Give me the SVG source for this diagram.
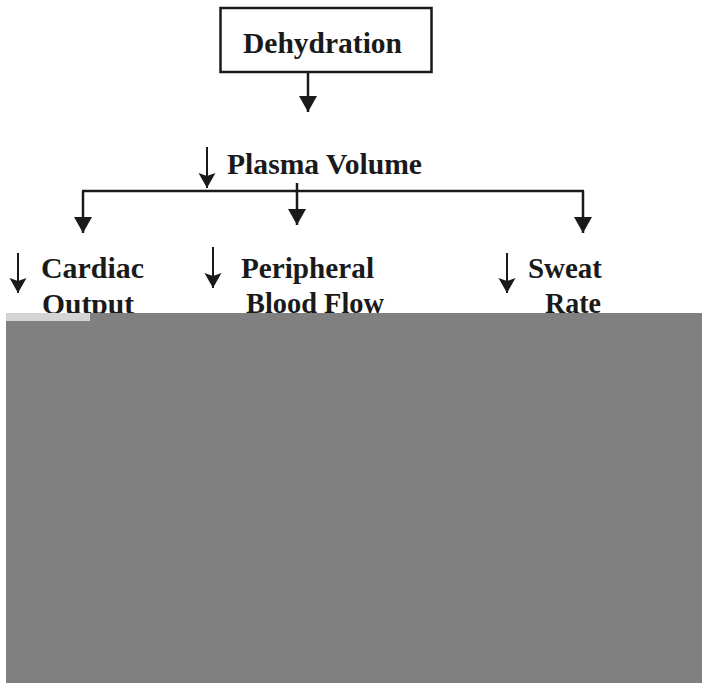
<svg xmlns="http://www.w3.org/2000/svg" width="702" height="683" viewBox="0 0 702 683">
<style>
.t{font-family:"Liberation Serif","Times New Roman",serif;font-weight:bold;font-size:29px;fill:#1a1a1a}
.ln{stroke:#1a1a1a;stroke-width:2.5;fill:none}
.gl{stroke:#1a1a1a;stroke-width:2;fill:none}
</style>
<defs>
<marker id="ah" markerUnits="userSpaceOnUse" markerWidth="18" markerHeight="18" refX="16" refY="9" orient="auto">
<path d="M0,0 L16,9 L0,18 Z" fill="#1a1a1a"/>
</marker>
<marker id="gh" markerUnits="userSpaceOnUse" markerWidth="16" markerHeight="18" refX="15" refY="8.5" orient="auto">
<path d="M0,0 L15,8.5 L0,17 L3,8.5 Z" fill="#1a1a1a"/>
</marker>
</defs>
<rect width="702" height="683" fill="#ffffff"/>
<g id="dehydration">
<rect x="220.5" y="8" width="211" height="64" fill="#ffffff" stroke="#1a1a1a" stroke-width="2.5"/>
<text class="t" x="243" y="53" textLength="159" lengthAdjust="spacingAndGlyphs">Dehydration</text>
</g>
<g id="plasma">
<line class="gl" x1="207" y1="147" x2="207" y2="188" marker-end="url(#gh)"/>
<text class="t" x="227" y="174" textLength="195" lengthAdjust="spacingAndGlyphs">Plasma Volume</text>
</g>
<g id="cardiac">
<line class="gl" x1="18" y1="253" x2="18" y2="293" marker-end="url(#gh)"/>
<text class="t" x="41" y="278" textLength="103" lengthAdjust="spacingAndGlyphs">Cardiac</text>
<text class="t" x="42" y="314" textLength="92" lengthAdjust="spacingAndGlyphs">Output</text>
</g>
<g id="peripheral">
<line class="gl" x1="213" y1="247" x2="213" y2="288" marker-end="url(#gh)"/>
<text class="t" x="241" y="278" textLength="133" lengthAdjust="spacingAndGlyphs">Peripheral</text>
<text class="t" x="246" y="313" textLength="138" lengthAdjust="spacingAndGlyphs">Blood Flow</text>
</g>
<g id="sweat">
<line class="gl" x1="507" y1="253" x2="507" y2="293" marker-end="url(#gh)"/>
<text class="t" x="528" y="278" textLength="74" lengthAdjust="spacingAndGlyphs">Sweat</text>
<text class="t" x="545" y="313" textLength="56" lengthAdjust="spacingAndGlyphs">Rate</text>
</g>
<g id="connectors">
<line class="ln" x1="308" y1="73" x2="308" y2="112" marker-end="url(#ah)"/>
<line class="ln" x1="82" y1="191" x2="584" y2="191"/>
<line class="ln" x1="83" y1="191" x2="83" y2="233" marker-end="url(#ah)"/>
<line class="ln" x1="297" y1="183" x2="297" y2="225" marker-end="url(#ah)"/>
<line class="ln" x1="583" y1="191" x2="583" y2="233" marker-end="url(#ah)"/>
</g>
<g id="gray-block">
<rect x="6" y="313" width="696" height="370" fill="#808080"/>
<rect x="6" y="313" width="84" height="8" fill="#d4d4d4"/>
</g>
</svg>
